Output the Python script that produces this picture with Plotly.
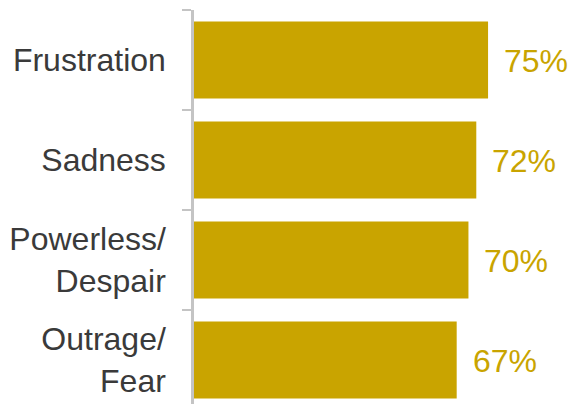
import plotly.graph_objects as go

# Emotions and share of respondents (%)
categories = ["Frustration", "Sadness", "Powerless/<br>Despair", "Outrage/<br>Fear"]
values = [75, 72, 70, 67]
value_labels = [f"{v}%" for v in values]

GOLD = "#C9A400"
TEXT = "#3A3A3A"
AXIS = "#C4C4C4"
FONT = "Liberation Sans, Arial, sans-serif"

fig = go.Figure(
    go.Bar(
        x=values,
        y=categories,
        orientation="h",
        marker=dict(color=GOLD, line=dict(width=0)),
        hoverinfo="skip",
    )
)

# Percentage labels to the right of each bar
for cat, v, lab in zip(categories, values, value_labels):
    fig.add_annotation(
        x=v, y=cat, text=lab, showarrow=False,
        xanchor="left", yanchor="middle", xshift=14, yshift=-1,
        font=dict(family=FONT, size=32, color=GOLD),
    )

fig.update_layout(
    width=570, height=404,
    margin=dict(l=194, r=0, t=10, b=0),
    paper_bgcolor="white", plot_bgcolor="white",
    bargap=0.23,
    showlegend=False,
    xaxis=dict(range=[0, 95.9], visible=False, fixedrange=True),
    yaxis=dict(
        type="category",
        categoryorder="array", categoryarray=categories,
        range=[3.44, -0.5],
        tickson="boundaries",
        ticks="outside", ticklen=9, tickwidth=2, tickcolor=AXIS,
        showline=True, linecolor=AXIS, linewidth=2.5,
        showgrid=False, zeroline=False,
        ticklabelstandoff=19,
        tickfont=dict(family=FONT, size=32, color=TEXT),
        fixedrange=True,
    ),
)

fig.write_html("out.html")
